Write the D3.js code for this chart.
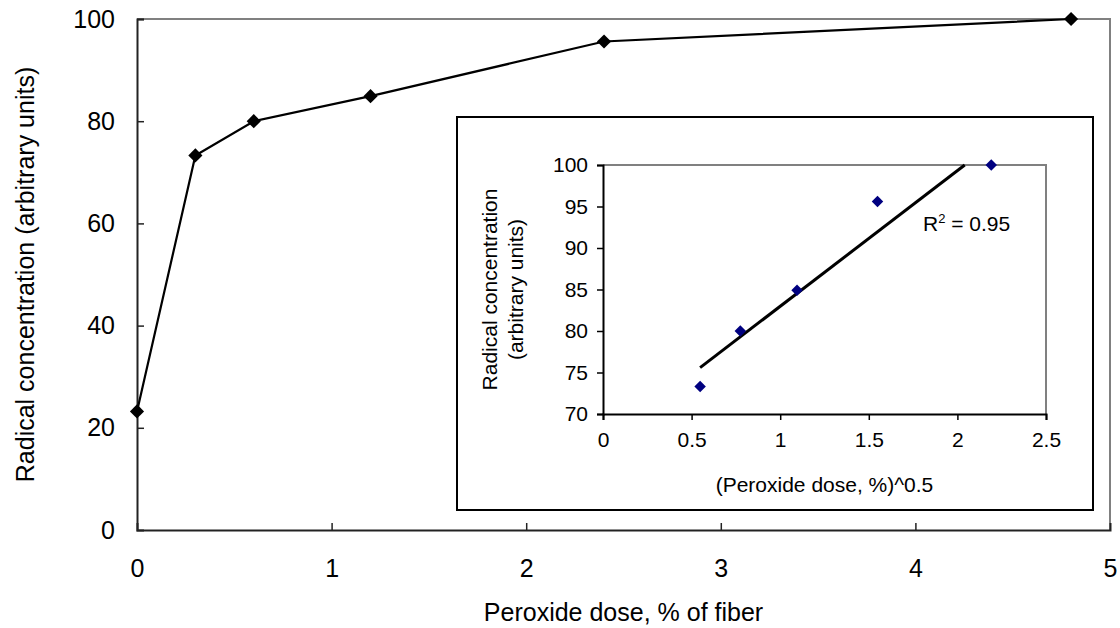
<!DOCTYPE html>
<html>
<head>
<meta charset="utf-8">
<script src="https://cdn.jsdelivr.net/npm/d3@7"></script>
<style>
  body { margin: 0; background: #fff; }
  svg { display: block; font-family: "Liberation Sans", Arial, sans-serif; }
</style>
</head>
<body>
<div id="chart"></div>
<script>
// main series: radical concentration vs peroxide dose
var doses = [0, 0.3, 0.6, 1.2, 2.4, 4.8];
var radicals = [23.2, 73.3, 80.0, 84.9, 95.6, 100];

// inset series: vs square root of dose
var sqrtDoses = [0.548, 0.775, 1.095, 1.549, 2.191];
var insetRadicals = [73.3, 80.0, 84.9, 95.6, 100];

var mainXTicks = [0, 1, 2, 3, 4, 5];
var mainYTicks = [0, 20, 40, 60, 80, 100];
var insetXTicks = [0, 0.5, 1, 1.5, 2, 2.5];
var insetYTicks = [70, 75, 80, 85, 90, 95, 100];
var r2Label = "0.95";

var width = 1120,
    height = 628;

var svg = d3.select("#chart")
            .append("svg")
            .attr("width", width)
            .attr("height", height);

// ---- main chart ----
var x = d3.scaleLinear().domain([0, 5]).range([137, 1110]);
var y = d3.scaleLinear().domain([0, 100]).range([530, 19]);

// grey top/right plot border
svg.append("path")
   .attr("d", "M" + x(0) + "," + y(100) + "H" + x(5) + "V" + y(0))
   .attr("fill", "none")
   .attr("stroke", "#808080")
   .attr("stroke-width", 2);

var xAxis = svg.append("g")
               .attr("transform", "translate(0," + y(0) + ")")
               .call(d3.axisBottom(x).tickValues(mainXTicks).tickSize(-7).tickPadding(22).tickFormat(d3.format("d")));
var yAxis = svg.append("g")
               .attr("transform", "translate(" + x(0) + ",0)")
               .call(d3.axisLeft(y).tickValues(mainYTicks).tickSize(-7).tickPadding(22));

[xAxis, yAxis].forEach(function(ax) {
  ax.select(".domain").attr("stroke", "#222").attr("stroke-width", 2);
  ax.selectAll(".tick line").attr("stroke", "#222").attr("stroke-width", 1.5);
  ax.selectAll(".tick text").attr("font-size", 25).attr("fill", "#000")
    .attr("font-family", "Liberation Sans, Arial, sans-serif");
});
xAxis.selectAll(".tick text").attr("dy", "0.71em").attr("y", 29);
xAxis.selectAll(".tick").filter(function(d) { return d === 0 || d === 5; }).select("line").remove();
yAxis.selectAll(".tick").filter(function(d) { return d === 0; }).select("line").remove();

svg.append("text")
   .attr("x", (x(0) + x(5)) / 2)
   .attr("y", 621)
   .attr("text-anchor", "middle")
   .attr("font-size", 25)
   .text("Peroxide dose, % of fiber");

svg.append("text")
   .attr("transform", "translate(34," + ((y(0) + y(100)) / 2) + ") rotate(-90)")
   .attr("text-anchor", "middle")
   .attr("font-size", 25)
   .text("Radical concentration (arbitrary units)");

var mainData = doses.map(function(d, i) { return {x: d, y: radicals[i]}; });

svg.append("path")
   .datum(mainData)
   .attr("fill", "none")
   .attr("stroke", "#000")
   .attr("stroke-width", 2.2)
   .attr("d", d3.line().x(function(d) { return x(d.x); }).y(function(d) { return y(d.y); }));

var diamond = d3.symbol().type(d3.symbolDiamond2);

svg.selectAll(".mainPoint")
   .data(mainData)
   .enter()
   .append("path")
   .attr("class", "mainPoint")
   .attr("d", diamond.size(128))
   .attr("transform", function(d) { return "translate(" + x(d.x) + "," + y(d.y) + ")"; })
   .attr("fill", "#000");

// ---- inset chart ----
var box = {left: 457, top: 117, right: 1093, bottom: 510};

svg.append("rect")
   .attr("x", box.left)
   .attr("y", box.top)
   .attr("width", box.right - box.left)
   .attr("height", box.bottom - box.top)
   .attr("fill", "#fff")
   .attr("stroke", "#000")
   .attr("stroke-width", 2);

var ix = d3.scaleLinear().domain([0, 2.5]).range([603, 1046]);
var iy = d3.scaleLinear().domain([70, 100]).range([414, 165]);

svg.append("path")
   .attr("d", "M" + ix(0) + "," + iy(100) + "H" + ix(2.5) + "V" + iy(70))
   .attr("fill", "none")
   .attr("stroke", "#808080")
   .attr("stroke-width", 2);

var ixAxis = svg.append("g")
                .attr("transform", "translate(0," + iy(70) + ")")
                .call(d3.axisBottom(ix).tickValues(insetXTicks).tickSize(6).tickPadding(12).tickFormat(d3.format("")));
var iyAxis = svg.append("g")
                .attr("transform", "translate(" + ix(0) + ",0)")
                .call(d3.axisLeft(iy).tickValues(insetYTicks).tickSize(6).tickPadding(9));

[ixAxis, iyAxis].forEach(function(ax) {
  ax.select(".domain").attr("stroke", "#000").attr("stroke-width", 2);
  ax.selectAll(".tick line").attr("stroke", "#000").attr("stroke-width", 1.5);
  ax.selectAll(".tick text").attr("font-size", 21).attr("fill", "#000")
    .attr("font-family", "Liberation Sans, Arial, sans-serif");
});

svg.append("text")
   .attr("x", (ix(0) + ix(2.5)) / 2)
   .attr("y", 492)
   .attr("text-anchor", "middle")
   .attr("font-size", 21)
   .text("(Peroxide dose, %)^0.5");

var iyTitle = svg.append("text")
   .attr("transform", "translate(497," + ((iy(70) + iy(100)) / 2) + ") rotate(-90)")
   .attr("text-anchor", "middle")
   .attr("font-size", 21);
iyTitle.append("tspan").attr("x", 0).attr("dy", 0).text("Radical concentration");
iyTitle.append("tspan").attr("x", 0).attr("dy", 26).text("(arbitrary units)");

// linear trendline fitted to the inset points
var mx = d3.mean(sqrtDoses),
    my = d3.mean(insetRadicals);
var sxy = d3.sum(sqrtDoses, function(d, i) { return (d - mx) * (insetRadicals[i] - my); });
var sxx = d3.sum(sqrtDoses, function(d) { return (d - mx) * (d - mx); });
var slope = sxy / sxx,
    intercept = my - slope * mx;

var x0 = d3.min(sqrtDoses),
    x1 = Math.min(d3.max(sqrtDoses), (100 - intercept) / slope);

svg.append("line")
   .attr("x1", ix(x0)).attr("y1", iy(intercept + slope * x0))
   .attr("x2", ix(x1)).attr("y2", iy(intercept + slope * x1))
   .attr("stroke", "#000")
   .attr("stroke-width", 3);

svg.selectAll(".insetPoint")
   .data(sqrtDoses)
   .enter()
   .append("path")
   .attr("class", "insetPoint")
   .attr("d", diamond.size(84))
   .attr("transform", function(d, i) { return "translate(" + ix(d) + "," + iy(insetRadicals[i]) + ")"; })
   .attr("fill", "#000080");

var r2 = svg.append("text")
   .attr("x", 923)
   .attr("y", 231)
   .attr("font-size", 21);
r2.append("tspan").text("R");
r2.append("tspan").attr("font-size", 13).attr("dy", -8).text("2");
r2.append("tspan").attr("dy", 8).text(" = " + r2Label);
</script>
</body>
</html>
